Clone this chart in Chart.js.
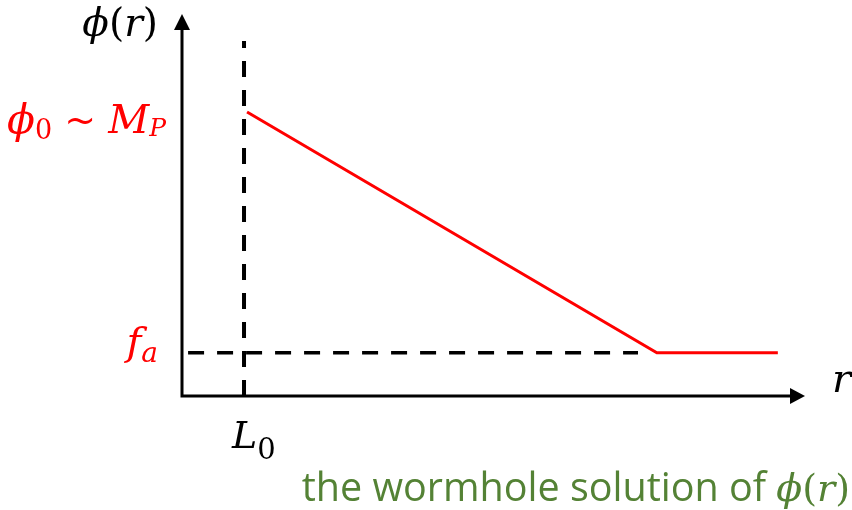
<!DOCTYPE html>
<html>
<head>
<meta charset="utf-8">
<script src="https://cdn.jsdelivr.net/npm/chart.js@4.4.1/dist/chart.umd.min.js"></script>
<style>
  html, body { margin: 0; padding: 0; background: #ffffff; }
  canvas { display: block; }
</style>
</head>
<body>
<canvas id="chart" width="852" height="510"></canvas>
<script>
// Sketch of the wormhole profile phi(r): a linear fall from phi0 at r = L0
// down to f_a, then flat.

// axis extents (arrowheads sit beyond these ends)
const axisX = [0, 10];
const axisY = [0, 10];

// marked positions
const L0 = 1.02;          // wormhole throat radius
const phi0 = 7.76;        // value at the throat (~ M_P)
const fa = 1.18;          // asymptotic value f_a

// profile of phi(r)
const profileR   = [1.07, 7.81, 9.80];
const profilePhi = [phi0, fa, fa];

// guide lines
const guideL0 = { r: [L0, L0], phi: [0, 9.7] };
const guideFa = { r: [0.1, 7.5], phi: [fa, fa] };

const toPoints = (xs, ys) => xs.map((x, i) => ({ x, y: ys[i] }));

const MATH = '"DejaVu Serif"';
const RED = '#ff0000';
const GREEN = '#548235';

// draws a run of math pieces; each piece: [text, size, italic, dy]
function measureMath(ctx, pieces) {
  ctx.save();
  let total = 0;
  pieces.forEach(p => {
    ctx.font = `${p[2] ? 'italic ' : ''}${p[1]}px ${MATH}`;
    total += ctx.measureText(p[0]).width;
  });
  ctx.restore();
  return total;
}
function drawMath(ctx, pieces, x, y, align, color) {
  ctx.save();
  ctx.fillStyle = color;
  ctx.textBaseline = 'alphabetic';
  ctx.textAlign = 'left';
  const total = measureMath(ctx, pieces);
  let cx = align === 'right' ? x - total : align === 'center' ? x - total / 2 : x;
  pieces.forEach(p => {
    ctx.font = `${p[2] ? 'italic ' : ''}${p[1]}px ${MATH}`;
    ctx.fillText(p[0], cx, y + (p[3] || 0));
    cx += ctx.measureText(p[0]).width;
  });
  ctx.restore();
  return total;
}

const annotations = {
  id: 'annotations',
  afterDraw(chart) {
    const ctx = chart.ctx;
    const xs = chart.scales.x, ys = chart.scales.y;
    const ox = xs.getPixelForValue(0), oy = ys.getPixelForValue(0);
    const xEnd = xs.getPixelForValue(axisX[1]);
    const yEnd = ys.getPixelForValue(axisY[1]);

    // arrowheads
    ctx.save();
    ctx.fillStyle = '#000';
    ctx.beginPath();
    ctx.moveTo(xEnd, oy - 8); ctx.lineTo(xEnd + 15, oy); ctx.lineTo(xEnd, oy + 8);
    ctx.closePath(); ctx.fill();
    ctx.beginPath();
    ctx.moveTo(ox - 8, yEnd); ctx.lineTo(ox, yEnd - 16); ctx.lineTo(ox + 8, yEnd);
    ctx.closePath(); ctx.fill();
    ctx.restore();

    // axis titles
    drawMath(ctx, [['ϕ', 39, true], ['(', 39, false], ['r', 39, true], [')', 39, false]],
      ox - 24, 36, 'right', '#000');
    drawMath(ctx, [['r', 40, true]], xEnd + 42, oy - 4, 'left', '#000');

    // marked values
    const yPhi0 = ys.getPixelForValue(phi0);
    drawMath(ctx, [['ϕ', 41, true], ['0', 27, false, 6], [' ~ ', 38, false], ['M', 40, true], ['P', 25, true, 3]],
      ox - 16, yPhi0 + 21, 'right', RED);
    const yFa = ys.getPixelForValue(fa);
    drawMath(ctx, [['f', 40, true], ['a', 28, true, 7]],
      ox - 24, yFa + 2, 'right', RED);
    const xL0 = xs.getPixelForValue(L0);
    drawMath(ctx, [['L', 38, true], ['0', 29, false, 11]],
      xL0 - 12, oy + 52, 'left', '#000');

    // caption, right-aligned to the canvas edge
    const capText = 'the wormhole solution of ';
    const capSize = 39.5;
    const tail = [['ϕ', 38, true], ['(', 38, false], ['r', 38, true], [')', 38, false]];
    ctx.save();
    ctx.font = `${capSize}px "Open Sans"`;
    const wText = ctx.measureText(capText).width;
    const wTail = measureMath(ctx, tail);
    const startX = 850 - wTail - wText;
    ctx.fillStyle = GREEN;
    ctx.textAlign = 'left';
    ctx.textBaseline = 'alphabetic';
    ctx.fillText(capText, startX, 501);
    ctx.restore();
    drawMath(ctx, tail, startX + wText, 501, 'left', GREEN);
  }
};

new Chart(document.getElementById('chart'), {
  type: 'scatter',
  data: {
    datasets: [
      {
        label: 'axes',
        data: [{ x: axisX[0], y: axisY[1] }, { x: axisX[0], y: axisY[0] }, { x: axisX[1], y: axisY[0] }],
        showLine: true, borderColor: '#000', borderWidth: 3, pointRadius: 0,
        borderJoinStyle: 'miter', borderCapStyle: 'butt', clip: false
      },
      {
        label: 'L0 guide',
        data: toPoints(guideL0.r, guideL0.phi),
        showLine: true, borderColor: '#000', borderWidth: 4, borderDash: [16, 13],
        pointRadius: 0, clip: false
      },
      {
        label: 'fa guide',
        data: toPoints(guideFa.r, guideFa.phi),
        showLine: true, borderColor: '#000', borderWidth: 3.5, borderDash: [16, 13],
        pointRadius: 0, clip: false
      },
      {
        label: 'phi(r)',
        data: toPoints(profileR, profilePhi),
        showLine: true, borderColor: RED, borderWidth: 3, pointRadius: 0,
        tension: 0, clip: false
      }
    ]
  },
  options: {
    responsive: false,
    animation: false,
    layout: { padding: { left: 182, right: 62, top: 30, bottom: 114 } },
    plugins: { legend: { display: false }, tooltip: { enabled: false } },
    scales: {
      x: { type: 'linear', min: axisX[0], max: axisX[1], display: false },
      y: { type: 'linear', min: axisY[0], max: axisY[1], display: false }
    }
  },
  plugins: [annotations]
});
</script>
</body>
</html>
